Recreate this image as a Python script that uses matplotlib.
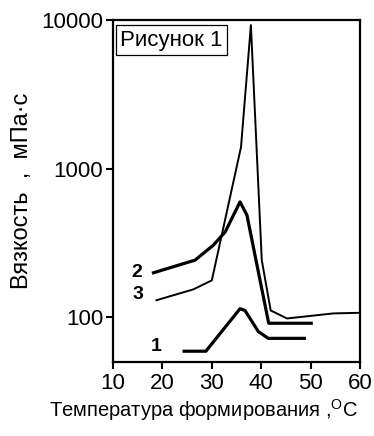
import matplotlib
matplotlib.use('Agg')
import matplotlib.pyplot as plt

# curve 1 (thick, lower)
t1 = [24.4, 28.8, 35.7, 36.7, 39.4, 41.4, 48.7]
v1 = [59, 59, 114, 111, 80, 72, 72]
# curve 2 (thick, upper)
t2 = [18.2, 26.6, 30.3, 32.7, 35.7, 37.1, 41.5, 50.1]
v2 = [199, 242, 305, 375, 597, 486, 91, 91]
# curve 3 (thin, sharp peak)
t3 = [18.8, 26.3, 30.0, 35.9, 37.9, 40.1, 41.9, 45.2, 54.6, 60.0]
v3 = [130, 154, 177, 1396, 9250, 242, 111, 98, 106, 107]

labels = ['1', '2', '3']
label_x = [18.8, 14.8, 15.1]
label_y = [63, 200, 141]

plt.rcParams['font.family'] = ['Liberation Sans', 'DejaVu Sans']

fig = plt.figure(figsize=(3.74, 4.36), dpi=100)
ax = fig.add_axes([0.302, 0.170, 0.661, 0.784])

ax.plot(t3, v3, color='black', lw=1.4)
ax.plot(t2, v2, color='black', lw=2.3)
ax.plot(t1, v1, color='black', lw=2.3)

for lab, x, y in zip(labels, label_x, label_y):
    ax.text(x, y, lab, fontsize=14, fontweight='bold', ha='center', va='center')

ax.set_yscale('log')
ax.set_xlim(10, 60)
ax.set_ylim(50, 10000)
ax.set_xticks([10, 20, 30, 40, 50, 60])
ax.set_yticks([100, 1000, 10000])
ax.set_yticklabels(['100', '1000', '10000'])
ax.minorticks_off()
ax.tick_params(labelsize=16, width=1.5, length=5, direction='out')
ax.tick_params(axis='y', pad=2)
ax.tick_params(axis='x', pad=3)
for s in ax.spines.values():
    s.set_linewidth(1.6)

ax.text(0.03, 0.972, 'Рисунок 1', transform=ax.transAxes, fontsize=16,
        ha='left', va='top',
        bbox=dict(boxstyle='square,pad=0.2', fc='white', ec='black', lw=0.9))

ax.set_ylabel('Вязкость  ,  мПа·с', fontsize=17, labelpad=6)
fig.text(0.545, 0.06, r'Температура формирования ,$^{\mathregular{O}}$C',
         fontsize=14.5, ha='center', va='center')

fig.savefig('out.png', dpi=100)
